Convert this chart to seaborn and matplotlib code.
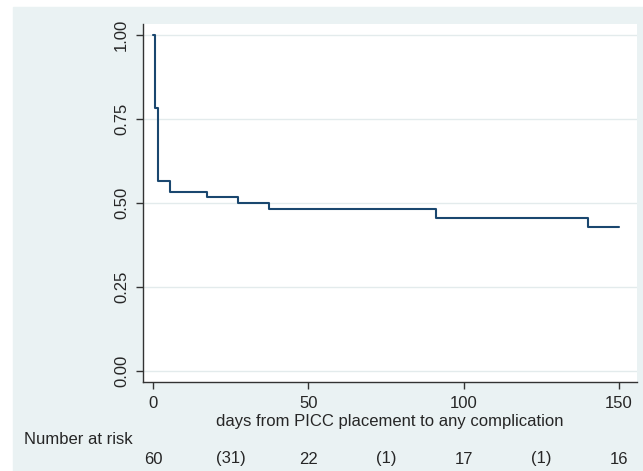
import matplotlib
matplotlib.use("Agg")
import matplotlib.pyplot as plt
import matplotlib.transforms as mtransforms
import pandas as pd
import seaborn as sns

# Kaplan-Meier step values
days = [0, 0.8, 1.7, 5.5, 17.4, 27.4, 37.3, 91, 140, 150]
survival = [1.0, 0.783, 0.567, 0.533, 0.517, 0.500, 0.483, 0.456, 0.428, 0.428]

# number-at-risk table
risk_days = [0, 25, 50, 75, 100, 125, 150]
risk_labels = ["60", "(31)", "22", "(1)", "17", "(1)", "16"]

x_ticks = [0, 50, 100, 150]
y_ticks = [0.00, 0.25, 0.50, 0.75, 1.00]

km = pd.DataFrame({"days": days, "survival": survival})

bg = "#EAF2F3"
sns.set_style("white", {"axes.edgecolor": "#333333", "grid.color": bg})
plt.rcParams["font.family"] = ["Liberation Sans", "DejaVu Sans"]
fs = 12

fig = plt.figure(figsize=(6.43, 4.71), dpi=100, facecolor="white")
# Stata-like outer graph region
fig.patches.append(plt.Rectangle((13 / 643, 0), 1, 1 - 7 / 471,
                                 transform=fig.transFigure, color=bg, zorder=-1))

ax = fig.add_axes([143 / 643, 1 - 382 / 471, (637 - 143) / 643, (382 - 24) / 471])
ax.set_facecolor("white")

sns.lineplot(data=km, x="days", y="survival", drawstyle="steps-post",
             color="#1A476F", linewidth=1.5, ax=ax)

ax.set_xlim(-3.2, 155.8)
ax.set_ylim(-0.032, 1.033)
ax.set_xticks(x_ticks)
ax.set_yticks(y_ticks)
ax.set_yticklabels([f"{v:.2f}" for v in y_ticks], rotation=90, va="center")
ax.yaxis.grid(True, color="#E3EBEC", linewidth=1.0)
ax.tick_params(axis="both", direction="out", length=5, width=1,
               color="#333333", labelsize=fs, pad=5, left=True, bottom=True)
ax.set_xlabel("days from PICC placement to any complication", fontsize=fs, labelpad=2)
ax.set_ylabel("")
sns.despine(ax=ax, top=True, right=True)
for s in ("left", "bottom"):
    ax.spines[s].set_linewidth(1.0)

# number at risk
trans = mtransforms.blended_transform_factory(ax.transData, fig.transFigure)
fig.text(24 / 643, 1 - 440 / 471, "Number at risk", fontsize=fs, va="center", ha="left")
for d, lab in zip(risk_days, risk_labels):
    ax.text(d, 1 - 459 / 471, lab, transform=trans, fontsize=fs,
            ha="center", va="center", clip_on=False)

fig.savefig("out.png", dpi=100, facecolor=fig.get_facecolor())
